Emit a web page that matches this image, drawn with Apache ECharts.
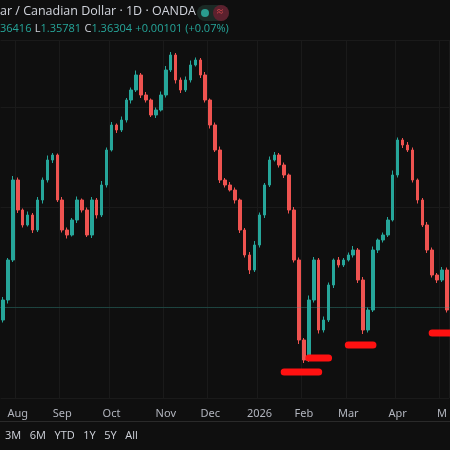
<!DOCTYPE html><html><head><meta charset="utf-8"><script src="https://cdn.jsdelivr.net/npm/echarts@6/dist/echarts.min.js"></script>
<style>html,body{margin:0;background:#0f0f0f}#c{width:450px;height:450px}</style></head><body><div id="c"></div><script>
const closes=[1.3614,1.3694,1.3854,1.3794,1.3764,1.3784,1.3754,1.3814,1.3854,1.3894,1.3904,1.3814,1.3754,1.3744,1.3774,1.3814,1.3794,1.3744,1.3814,1.3784,1.3844,1.3914,1.3964,1.3954,1.3974,1.4014,1.4034,1.4064,1.4024,1.4014,1.3984,1.3994,1.4024,1.4074,1.4104,1.4054,1.4034,1.4054,1.4084,1.4094,1.4064,1.4014,1.3964,1.3914,1.3854,1.3844,1.3834,1.3814,1.3754,1.3704,1.3674,1.3724,1.3784,1.3844,1.3894,1.3904,1.3884,1.3864,1.3794,1.3694,1.3534,1.3494,1.3614,1.3694,1.3554,1.3574,1.3644,1.3694,1.3684,1.3694,1.3704,1.3714,1.3654,1.3554,1.3594,1.3714,1.3734,1.3744,1.3774,1.3864,1.3934,1.3924,1.3914,1.3854,1.3814,1.3764,1.3714,1.3664,1.3654,1.3674,1.3594];
const firstOpen=1.3574;
const wickUp=[6,4,8,5,3,7,4,6,5,9,4,3,6,5,4,7,3,5,6,4,8,5,6,3,7,4,5,9,4,6,3,5,7,8,6,4,5,7,9,5,4,6,3,5,7,4,6,5,3,4,6,8,5,4,7,6,4,5,3,6,5,4,9,6,4,7,5,3,6,4,5,8,4,6,5,7,3,5,6,9,5,4,6,5,3,4,6,5,4,6,5];
const wickDn=[5,7,4,6,5,3,6,4,7,5,6,4,5,7,3,6,5,4,6,7,4,5,3,6,4,5,7,4,6,5,4,6,3,5,4,7,6,4,5,3,6,5,7,4,6,5,3,7,6,5,8,4,5,6,4,3,5,6,7,5,8,6,4,5,7,5,4,6,5,4,3,5,6,8,5,4,6,5,4,3,5,6,4,5,7,4,6,5,6,4,5];
const monthLabels={3:'Aug',12:'Sep',22:'Oct',33:'Nov',42:'Dec',52:'2026',61:'Feb',70:'Mar',80:'Apr',89:'M'};
const lastPrice=1.363;
const markSegs=[[[56.6,1.3470],[63.5,1.3470]],[[62.2,1.3498],[65.8,1.3498]],[[70,1.3524],[74.8,1.3524]],[[87.3,1.3548],[91,1.3548]]];
const cats=closes.map((_,i)=>i);
const ohlc=closes.map((c,i)=>{const o=i?closes[i-1]:firstOpen;return [o,c,Math.min(o,c)-wickDn[i]*0.0001,Math.max(o,c)+wickUp[i]*0.0001];});
const segData=[];markSegs.forEach(s=>{segData.push(s[0],s[1],[null,null]);});
const ch=echarts.init(document.getElementById('c'));
ch.setOption({backgroundColor:'#0f0f0f',animation:false,
grid:{left:0,right:0,top:40,bottom:52},
xAxis:{type:'category',data:cats,boundaryGap:true,axisLine:{show:false},axisTick:{show:false},
 axisLabel:{interval:0,color:'#b2b5be',fontSize:11,fontFamily:'Noto Sans',margin:10,formatter:v=>monthLabels[v]||''},
 splitLine:{show:true,interval:(i)=>monthLabels[i]!==undefined,lineStyle:{color:'#1a1a1a'}}},
yAxis:{type:'value',min:1.3418,max:1.4134,show:true,axisLabel:{show:false},axisLine:{show:false},axisTick:{show:false},splitNumber:4,splitLine:{lineStyle:{color:'#1a1a1a'}}},
series:[{type:'candlestick',data:ohlc,barWidth:3,itemStyle:{color:'#26a69a',color0:'#ef5350',borderColor:'#26a69a',borderColor0:'#ef5350',borderWidth:1},
 markLine:{symbol:'none',silent:true,label:{show:false},lineStyle:{color:'#26a69a',type:'dotted',width:1,opacity:0.6},data:[{yAxis:lastPrice}]}},
 {type:'line',data:segData,connectNulls:false,showSymbol:false,lineStyle:{color:'#ff1111',width:7,cap:'round'},z:10}],
graphic:[
 {type:'text',left:0,top:5,style:{text:'ar / Canadian Dollar · 1D · OANDA',fill:'#d1d4dc',font:'12.5px "Open Sans"'}},
 {type:'rect',shape:{x:197,y:5,width:32,height:16,r:8},style:{fill:'rgba(40,70,60,0.5)'}},
 {type:'circle',shape:{cx:205,cy:13,r:4},style:{fill:'#2a9d8f'}},
 {type:'rect',shape:{x:213,y:5,width:16,height:16,r:8},style:{fill:'rgba(120,30,50,0.7)'}},
 {type:'text',left:217,top:6,style:{text:'≈',fill:'#ef5350',font:'11px "Noto Sans"'}},
 {type:'text',left:0,top:23,style:{text:'{g|36416} {w|L}{g|1.35781} {w|C}{g|1.36304} {g|+0.00101 (+0.07%)}',rich:{g:{fill:'#26a69a',font:'11px "Open Sans"'},w:{fill:'#d1d4dc',font:'11px "Open Sans"'}}}},
 {type:'rect',shape:{x:0,y:421,width:450,height:1},style:{fill:'#2a2a2a'}},
 {type:'text',left:5,top:430,style:{text:'3M   6M   YTD   1Y   5Y   All',fill:'#d1d4dc',font:'11px "Open Sans"'}}
]});
</script></body></html>
